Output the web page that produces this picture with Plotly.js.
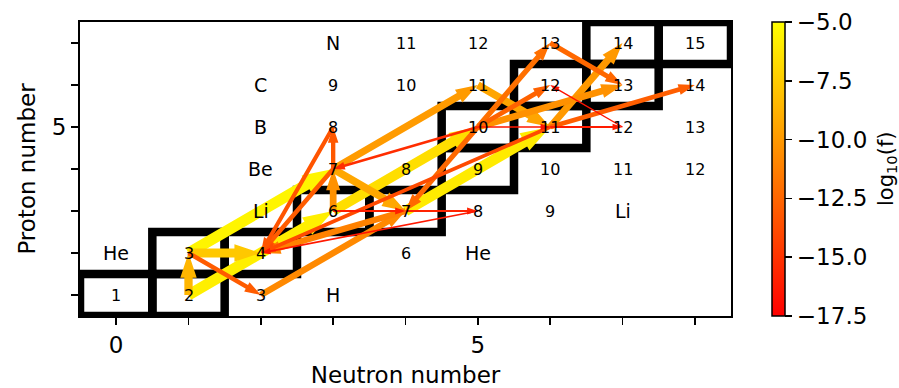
<!DOCTYPE html>
<html>
<head>
<meta charset="utf-8">
<script src="https://cdn.plot.ly/plotly-3.0.1.min.js"></script>
<style>
  html, body { margin: 0; padding: 0; background: #ffffff; }
  #chart { width: 899px; height: 388px; }
</style>
</head>
<body>
<div id="chart"></div>
<script>
// ---- Nuclide chart data -------------------------------------------------
const elementSymbols = ['H', 'He', 'Li', 'Be', 'B', 'C', 'N'];
const protonNumbers  = [1, 2, 3, 4, 5, 6, 7];
// mass numbers of the nuclides in the network, per element
const isotopeMasses = [
  [1, 2, 3],
  [3, 4, 6],
  [6, 7, 8, 9],
  [7, 8, 9, 10, 11, 12],
  [8, 10, 11, 12, 13],
  [9, 10, 11, 12, 13, 14],
  [11, 12, 13, 14, 15]
];

// stable nuclides (framed): mass number and proton number
const stableA = [1, 2, 3, 4, 6, 7, 9, 10, 11, 12, 13, 14, 15];
const stableZ = [1, 1, 2, 2, 3, 3, 4, 5, 5, 6, 6, 7, 7];

// integrated flows: from (A, Z) to (A, Z), with log10 of the flow
const flowFromA = [2, 3, 3, 3, 3, 2, 6, 7, 7, 7, 11, 7, 8, 6, 10, 10, 10, 10, 10, 11, 13, 12, 11, 10, 11, 6, 7, 8, 7, 7, 11];
const flowFromZ = [1, 2, 2, 1, 2, 1, 3, 3, 4, 4, 6, 4, 5, 3, 5, 5, 5, 5, 5, 5, 7, 5, 5, 5, 5, 3, 3, 3, 3, 4, 5];
const flowToA   = [3, 4, 3, 7, 7, 6, 10, 11, 7, 11, 11, 8, 4, 7, 7, 7, 13, 12, 13, 14, 13, 12, 12, 11, 14, 7, 8, 4, 4, 4, 4];
const flowToZ   = [2, 2, 1, 3, 4, 3, 5, 5, 3, 6, 5, 5, 2, 4, 4, 3, 7, 6, 6, 7, 6, 6, 5, 5, 6, 3, 3, 2, 2, 2, 2];
const flowLogF  = [-8.6, -7.7, -13.0, -10.8, -5.5, -5.8, -6.6, -6.0, -9.3, -9.9, -9.4, -13.2, -13.4, -10.4, -15.3, -12.4,
                   -12.0, -12.7, -10.4, -10.0, -12.4, -16.6, -16.2, -16.4, -12.9, -16.0, -15.8, -16.3, -11.2, -13.0, -13.8];

const cbTicks = [-17.5, -15, -12.5, -10, -7.5, -5];

// ---- geometry helpers -------------------------------------------------------
const W = 899, H = 388;
const margin = { l: 80, r: 168, t: 22, b: 72 };
const xRange = [-0.5, 8.5], yRange = [0.5, 7.5];
const plotW = W - margin.l - margin.r, plotH = H - margin.t - margin.b;
const pxPerX = plotW / (xRange[1] - xRange[0]);
const pxPerY = plotH / (yRange[1] - yRange[0]);
const cmin = cbTicks[0], cmax = cbTicks[cbTicks.length - 1];
const FONT = 'DejaVu Sans, sans-serif';
const TICK_SIZE = 23;

function autumn(v) {
  const t = Math.min(1, Math.max(0, (v - cmin) / (cmax - cmin)));
  return 'rgb(255,' + Math.round(255 * t) + ',0)';
}
function shaftWidth(v) { return Math.max(1.2, 1.5 + 0.86 * (v + 16.5)); }

// filled arrow outline in data units, built in screen space so the head keeps its shape
function arrowPolygon(x0, y0, x1, y1, w) {
  const ax = x0 * pxPerX, ay = y0 * pxPerY, bx = x1 * pxPerX, by = y1 * pxPerY;
  const L = Math.hypot(bx - ax, by - ay);
  const ux = (bx - ax) / L, uy = (by - ay) / L;
  const nx = -uy, ny = ux;
  const hw = 1.5 * w + 4;
  const hl = Math.min(1.5 * hw, 0.6 * L);
  const sx = bx - ux * hl, sy = by - uy * hl;
  const pts = [
    [ax + nx * w / 2, ay + ny * w / 2],
    [sx + nx * w / 2, sy + ny * w / 2],
    [sx + nx * hw / 2, sy + ny * hw / 2],
    [bx, by],
    [sx - nx * hw / 2, sy - ny * hw / 2],
    [sx - nx * w / 2, sy - ny * w / 2],
    [ax - nx * w / 2, ay - ny * w / 2],
    [ax + nx * w / 2, ay + ny * w / 2]
  ];
  return { x: pts.map(p => p[0] / pxPerX), y: pts.map(p => p[1] / pxPerY) };
}

// ---- traces -------------------------------------------------------------
const traces = [];
const order = flowLogF.map((v, i) => i).sort((a, b) => flowLogF[b] - flowLogF[a]);
order.forEach(i => {
  const n0 = flowFromA[i] - flowFromZ[i], n1 = flowToA[i] - flowToZ[i];
  const poly = arrowPolygon(n0, flowFromZ[i], n1, flowToZ[i], shaftWidth(flowLogF[i]));
  traces.push({
    type: 'scatter', mode: 'lines', x: poly.x, y: poly.y,
    fill: 'toself', fillcolor: autumn(flowLogF[i]),
    line: { width: 0, color: autumn(flowLogF[i]) },
    hoverinfo: 'skip', showlegend: false
  });
});

// colour scale carrier (sits outside the visible range)
const cbLeft = 772;
traces.push({
  type: 'scatter', mode: 'markers', x: [-5], y: [-5],
  marker: {
    color: [flowLogF[0]], cmin: cmin, cmax: cmax,
    colorscale: [[0, 'rgb(255,0,0)'], [1, 'rgb(255,255,0)']],
    showscale: true,
    colorbar: {
      x: (cbLeft - margin.l) / plotW, xanchor: 'left', xpad: 0,
      y: 0.5, yanchor: 'middle', ypad: 0, len: 1, lenmode: 'fraction',
      thickness: 13, thicknessmode: 'pixels',
      outlinewidth: 1.5, outlinecolor: '#000',
      ticks: 'outside', ticklen: 7, tickwidth: 1.5, tickcolor: '#000',
      tickvals: cbTicks,
      ticktext: cbTicks.map(v => (v < 0 ? '\u2212' : '') + Math.abs(v).toFixed(1)),
      tickfont: { family: FONT, size: TICK_SIZE, color: '#000' }
    }
  },
  hoverinfo: 'skip', showlegend: false
});

// ---- stable-nuclide frames --------------------------------------------------
const shapes = stableA.map((a, i) => ({
  type: 'rect', xref: 'x', yref: 'y', layer: 'below',
  x0: a - stableZ[i] - 0.5, x1: a - stableZ[i] + 0.5,
  y0: stableZ[i] - 0.5, y1: stableZ[i] + 0.5,
  line: { color: '#000', width: 8.5 }, fillcolor: 'rgba(0,0,0,0)'
}));

// ---- labels: mass numbers and element symbols -------------------------------
const annotations = [];
isotopeMasses.forEach((masses, k) => {
  const z = protonNumbers[k];
  const ns = masses.map(a => a - z);
  masses.forEach((a, j) => {
    annotations.push({ x: ns[j], y: z, xref: 'x', yref: 'y', text: String(a), showarrow: false,
      font: { family: FONT, size: 16, color: '#000' } });
  });
  [Math.min(...ns) - 1, Math.max(...ns) + 1].forEach(n => {
    if (n >= xRange[0] && n <= xRange[1]) {
      annotations.push({ x: n, y: z, xref: 'x', yref: 'y', text: elementSymbols[k], showarrow: false,
        font: { family: FONT, size: 19, color: '#000' } });
    }
  });
});

// colour bar title
annotations.push({
  xref: 'paper', yref: 'paper', x: (887 - margin.l) / plotW, y: 0.5,
  xanchor: 'center', yanchor: 'middle', textangle: -90, showarrow: false,
  text: 'log<sub>10</sub>(f)', font: { family: FONT, size: 21, color: '#000' }
});

const minorTicks = { tick0: 0, dtick: 1, ticks: 'outside', ticklen: 7, tickwidth: 1.5, tickcolor: '#000', showgrid: false };

const layout = {
  width: W, height: H, margin: margin,
  paper_bgcolor: '#fff', plot_bgcolor: '#fff',
  font: { family: FONT, color: '#000' },
  showlegend: false,
  xaxis: {
    range: xRange, tickvals: [0, 5], ticktext: ['0', '5'],
    ticks: 'outside', ticklen: 7, tickwidth: 1.5, tickcolor: '#000', minor: minorTicks,
    showline: true, linecolor: '#000', linewidth: 2, mirror: true,
    showgrid: false, zeroline: false, tickfont: { family: FONT, size: TICK_SIZE },
    title: { text: 'Neutron number', font: { family: FONT, size: TICK_SIZE }, standoff: 12 }
  },
  yaxis: {
    range: yRange, tickvals: [5], ticktext: ['5'],
    ticks: 'outside', ticklen: 7, tickwidth: 1.5, tickcolor: '#000', minor: minorTicks,
    showline: true, linecolor: '#000', linewidth: 2, mirror: true,
    showgrid: false, zeroline: false, tickfont: { family: FONT, size: TICK_SIZE },
    title: { text: 'Proton number', font: { family: FONT, size: TICK_SIZE }, standoff: 10 }
  },
  shapes: shapes,
  annotations: annotations
};

Plotly.newPlot('chart', traces, layout, { displayModeBar: false, staticPlot: true });
</script>
</body>
</html>
